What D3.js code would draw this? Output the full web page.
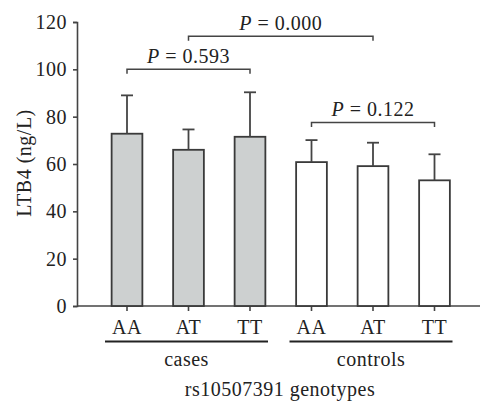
<!DOCTYPE html>
<html>
<head>
<meta charset="utf-8">
<script src="https://cdn.jsdelivr.net/npm/d3@7"></script>
<style>
body{margin:0;background:#fff;}
svg text{font-family:'Liberation Serif','DejaVu Serif',serif;fill:#222;letter-spacing:0.5px;}
</style>
</head>
<body>
<div id="chart"></div>
<script>
// datos
var grupos = ["cases","controls"];
var genotipos = ["AA","AT","TT"];
var medias = [72.8, 66.0, 71.5, 60.8, 59.1, 53.1];
var desv = [16.2, 8.6, 18.8, 9.3, 9.9, 11.0];
var yTicks = [0,20,40,60,80,100,120];
var comparaciones = [
	{desde:0, hasta:2, valor:100, texto:"0.593"},
	{desde:1, hasta:4, valor:114, texto:"0.000"},
	{desde:3, hasta:5, valor:77.5, texto:"0.122"}
];

var w = 480, h = 402;
var fuente = "'Liberation Serif','DejaVu Serif',serif";
var barras = [];
for(var g=0; g<grupos.length; g++){
	for(var k=0; k<genotipos.length; k++){
		var i = g*genotipos.length + k;
		barras.push({id:i, grupo:grupos[g], gen:genotipos[k], media:medias[i], sd:desv[i]});
	}
}

var svg = d3.select("#chart").append("svg")
	.attr("width",w)
	.attr("height",h)
	.style("font-family",fuente);

var y = d3.scaleLinear().domain([0,120]).range([306,22]);
var x = d3.scaleBand().domain(barras.map(function(d){return d.id;}))
	.range([96.25,465.25]).paddingInner(0.5).paddingOuter(0.25);

var bw = x.bandwidth();
function cx(i){ return x(i) + bw/2; }

// eje y
var ejeY = svg.append("g").attr("transform","translate(77,0)")
	.call(d3.axisLeft(y).tickValues(yTicks).tickSize(4).tickPadding(6))
	.attr("font-family",null).attr("font-size",null);
ejeY.select(".domain").attr("stroke","#444").attr("stroke-width",1.6);
ejeY.selectAll(".tick line").attr("stroke","#444").attr("stroke-width",1.6);
ejeY.selectAll(".tick text").attr("font-size",20).style("font-family",fuente).attr("fill","#222");

// eje x (linea base hasta el borde)
var ejeX = svg.append("g").attr("transform","translate(0,306)")
	.call(d3.axisBottom(x).tickSize(5).tickFormat(function(){return "";}));
ejeX.select(".domain").attr("d","M77,0H480").attr("stroke","#444").attr("stroke-width",1.6);
ejeX.selectAll(".tick line").attr("stroke","#444").attr("stroke-width",1.6);

// barras
svg.selectAll(".barra").data(barras).enter().append("rect")
	.attr("class","barra")
	.attr("x",function(d){return x(d.id);})
	.attr("y",function(d){return y(d.media);})
	.attr("width",bw)
	.attr("height",function(d){return y(0)-y(d.media);})
	.attr("fill",function(d){return d.grupo=="cases" ? "#cdd0d0" : "#fff";})
	.attr("stroke","#3a3a3a")
	.attr("stroke-width",1.8);

// barras de error (solo hacia arriba)
var err = svg.selectAll(".err").data(barras).enter().append("g").attr("class","err")
	.attr("stroke","#444").attr("stroke-width",1.8);
err.append("line")
	.attr("x1",function(d){return cx(d.id);})
	.attr("x2",function(d){return cx(d.id);})
	.attr("y1",function(d){return y(d.media);})
	.attr("y2",function(d){return y(d.media+d.sd);});
err.append("line")
	.attr("x1",function(d){return cx(d.id)-6;})
	.attr("x2",function(d){return cx(d.id)+6;})
	.attr("y1",function(d){return y(d.media+d.sd);})
	.attr("y2",function(d){return y(d.media+d.sd);});

// etiquetas de genotipo
svg.selectAll(".gen").data(barras).enter().append("text")
	.attr("class","gen")
	.attr("x",function(d){return cx(d.id);})
	.attr("y",333.5)
	.attr("text-anchor","middle")
	.attr("font-size",20)
	.text(function(d){return d.gen;});

// subrayado de grupos
grupos.forEach(function(gname,g){
	var a = g*genotipos.length, b = a + genotipos.length - 1;
	var x1 = cx(a)-22, x2 = cx(b)+18;
	svg.append("line")
		.attr("x1",x1).attr("x2",x2)
		.attr("y1",341.5).attr("y2",341.5)
		.attr("stroke","#222").attr("stroke-width",1.8);
	svg.append("text")
		.attr("x",(cx(a)+cx(b))/2 - 2)
		.attr("y",365.5)
		.attr("text-anchor","middle")
		.attr("font-size",20)
		.text(gname);
});

svg.append("text")
	.attr("x",280)
	.attr("y",396)
	.attr("text-anchor","middle")
	.attr("font-size",20)
	.text("rs10507391 genotypes");

svg.append("text")
	.attr("transform","translate(30.5,163) rotate(-90)")
	.attr("text-anchor","middle")
	.attr("font-size",20)
	.text("LTB4 (ng/L)");

// corchetes de comparacion
var corch = svg.selectAll(".corchete").data(comparaciones).enter().append("g").attr("class","corchete");
corch.append("path")
	.attr("d",function(d){
		var yy = y(d.valor);
		return "M"+cx(d.desde)+","+(yy+4.5)+"V"+yy+"H"+cx(d.hasta)+"V"+(yy+4.5);
	})
	.attr("fill","none").attr("stroke","#444").attr("stroke-width",1.5);
var tx = corch.append("text")
	.attr("x",function(d){return (cx(d.desde)+cx(d.hasta))/2;})
	.attr("y",function(d){return y(d.valor)-6.5;})
	.attr("text-anchor","middle")
	.attr("font-size",20);
tx.append("tspan").attr("font-style","italic").text("P");
tx.append("tspan").text(function(d){return " = "+d.texto;});
</script>
</body>
</html>
